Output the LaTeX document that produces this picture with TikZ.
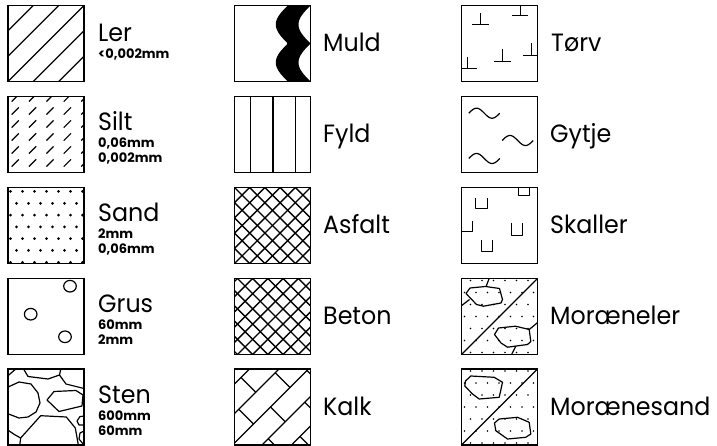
\documentclass[tikz,border=0pt]{standalone}
\usepackage{fontspec}
\setmainfont{Poppins}[FakeStretch=0.95]
\newfontfamily\smallfont{Poppins}
\begin{document}
\begin{tikzpicture}[x=1bp,y=-1bp,
  frame/.style={line width=1.8bp},
  pat/.style={line width=1.2bp, line join=round},
  big/.style={anchor=base west,inner sep=0pt,font=\fontsize{25bp}{30bp}\selectfont},
  bigstack/.style={big,text depth=0pt},
  small/.style={anchor=base west,inner sep=0pt,text height=9.5bp,text depth=2bp,font=\smallfont\bfseries\fontsize{13bp}{15bp}\selectfont},
  dot/.style={fill=black}]
\useasboundingbox (0,0) rectangle (717,446);

% ---------------- Column 1 ----------------
% Ler
\begin{scope}[shift={(8,5.5)}]
  \begin{scope}\clip (0,0) rectangle (76,76);
    \foreach \c in {25.33,50.67,76,101.33,126.67} \draw[pat] (\c,0) -- (0,\c);
  \end{scope}
  \draw[frame] (0,0) rectangle (76,76);
\end{scope}
\node[bigstack] (ler) at (98,42) {Ler};
\node[small] (lerA) at (98,58.5) {<0,002mm};

% Silt
\begin{scope}[shift={(8,96.5)}]
  \begin{scope}\clip (0,0) rectangle (76,76);
    \foreach \cx in {7.2,24.6,42,59.4,76.8}
      \foreach \cy in {1.5,14.5,27.5,40.5,53.5,66.5}
        \draw[pat] ({\cx-3.6},{\cy+3.6}) -- ({\cx+3.6},{\cy-3.6});
  \end{scope}
  \draw[frame] (0,0) rectangle (76,76);
\end{scope}
\node[bigstack] (silt) at (98,131) {Silt};
\node[small] (siltA) at (98,148) {0,06mm};
\node[small] (siltB) at (98,163) {0,002mm};

% Sand
\begin{scope}[shift={(8,187.5)}]
  \foreach \j in {0,2,4,6} \foreach \k in {0,...,6}
    \fill[dot] ({2.5+12*\k},{4+11.8*\j}) circle (1.5);
  \foreach \j in {1,3,5} \foreach \k in {0,...,5}
    \fill[dot] ({8.5+12*\k},{4+11.8*\j}) circle (1.5);
  \draw[frame] (0,0) rectangle (76,76);
\end{scope}
\node[bigstack] (sand) at (98,222) {Sand};
\node[small] (sandA) at (98,239) {2mm};
\node[small] (sandB) at (98,254) {0,06mm};

% Grus
\begin{scope}[shift={(8,278.5)}]
  \draw[pat] (22.7,35.7) ellipse [x radius=6.3, y radius=5.8];
  \draw[pat] (62,7.7) ellipse [x radius=6.3, y radius=5.8];
  \draw[pat] (57,58.3) ellipse [x radius=6.3, y radius=5.8];
  \draw[frame] (0,0) rectangle (76,76);
\end{scope}
\node[bigstack] (grus) at (98,313) {Grus};
\node[small] (grusA) at (98,330) {60mm};
\node[small] (grusB) at (98,345) {2mm};

% Sten
\begin{scope}[shift={(8,369)}]
  \begin{scope}\clip (0,0) rectangle (76,76);
    \draw[pat] (-2,19) -- (11,13) -- (23,15) -- (30,24) -- (32,34) -- (28,43) -- (20,48) -- (11,49) -- (-2,44);
    \draw[pat] (-1,7.5) -- (9,-1);
    \draw[pat] (15,-1) -- (20,7.5) -- (40,10) -- (51.5,6) -- (53,-1);
    \draw[pat] (51.5,6) -- (58,15) -- (78,20);
    \draw[pat] (39,31) -- (46,22.5) -- (68,21.5) -- (75,26) -- (74,37) -- (51,42.5) -- cycle;
    \draw[pat] (11.5,78) -- (12.7,69) -- (32.7,46.7) -- (58.3,48) -- (67.3,59) -- (70.7,78);
    \draw[pat] (-1,60.5) -- (6.7,65.7) -- (12.7,69);
    \draw[pat] (69,52) -- (72,47.5) -- (78,47) ;
    \draw[pat] (69,52) -- (71,56) -- (78,56);
    \draw[pat] (78,61) -- (72,64) -- (71,70) -- (76,76);
  \end{scope}
  \draw[frame] (0,0) rectangle (76,76);
\end{scope}
\node[bigstack] (sten) at (98,403.5) {Sten};
\node[small] (stenA) at (98,420.5) {600mm};
\node[small] (stenB) at (98,435.5) {60mm};

% ---------------- Column 2 ----------------
% Muld
\begin{scope}[shift={(234.5,5.5)}]
  \fill plot[domain=0:76,samples=77,variable=\t] ({53.3-12*abs(sin(180*\t/38))},\t)
     -- plot[domain=76:0,samples=77,variable=\t] ({76-12*abs(sin(180*\t/38))},\t) -- cycle;
  \draw[pat] (53.3,0) -- (53.3,76);
  \draw[frame] (0,0) rectangle (76,76);
\end{scope}
\node[big] (muld) at (323,52) {Muld};

% Fyld
\begin{scope}[shift={(234.5,96.5)}]
  \foreach \x in {16,38.5,61} \draw[pat] (\x,0) -- (\x,76);
  \draw[frame] (0,0) rectangle (76,76);
\end{scope}
\node[big] (fyld) at (323,143) {Fyld};

% Asfalt
\begin{scope}[shift={(234.5,187.5)}]
  \begin{scope}\clip (0,0) rectangle (76,76);
    \foreach \k in {-5,...,10} {
      \draw[pat,line width=1.4bp] ({15.2*\k},0) -- ({15.2*\k-76},76);
      \draw[pat,line width=1.4bp] ({15.2*\k},0) -- ({15.2*\k+76},76);
    }
  \end{scope}
  \draw[frame] (0,0) rectangle (76,76);
\end{scope}
\node[big] (asfalt) at (323,234) {Asfalt};

% Beton
\begin{scope}[shift={(234.5,278.5)}]
  \begin{scope}\clip (0,0) rectangle (76,76);
    \foreach \k in {-5,...,10} {
      \draw[pat,line width=1.4bp] ({15.2*\k+3},0) -- ({15.2*\k+3-76},76);
      \draw[pat,line width=1.4bp] ({15.2*\k+3},0) -- ({15.2*\k+3+76},76);
    }
  \end{scope}
  \draw[frame] (0,0) rectangle (76,76);
\end{scope}
\node[big] (beton) at (323,325) {Beton};

% Kalk
\begin{scope}[shift={(234.5,369)}]
  \begin{scope}\clip (0,0) rectangle (76,76);
    \foreach \c in {15,44.5,74,103.5,133} \draw[pat] (\c,0) -- (0,\c);
    \foreach \a/\b/\d in {15/44.5/-2, 44.5/74/-36, 44.5/74/37, 74/103.5/-2, 74/103.5/71,
                          103.5/133/-36, 103.5/133/37, 133/162.5/-2}
      \draw[pat] ({(\a+\d)/2},{(\a-\d)/2}) -- ({(\b+\d)/2},{(\b-\d)/2});
  \end{scope}
  \draw[frame] (0,0) rectangle (76,76);
\end{scope}
\node[big] (kalk) at (323,415.5) {Kalk};

% ---------------- Column 3 ----------------
% Toerv
\begin{scope}[shift={(461.5,5.5)}]
  \begin{scope}\clip (0,0) rectangle (76,76);
    \foreach \xa/\xb/\y/\s/\top in {10.7/27.3/19/19/8, 50.7/66.7/10/58.7/-1,
        32.3/49/55.7/40.7/44, 61.7/77/49.7/69.7/38, -1/15.7/63.3/6.3/51.5}
      {\draw[pat] (\xa,\y) -- (\xb,\y); \draw[pat] (\s,\y) -- (\s,\top);}
  \end{scope}
  \draw[frame] (0,0) rectangle (76,76);
\end{scope}
\node[big] (toerv) at (551,52) {Tørv};

% Gytje
\begin{scope}[shift={(461.5,96.5)}]
  \foreach \xo/\yc in {7.3/16.7, 40.7/44, 7.3/62}
    \draw[pat] plot[domain=0:31,samples=40,variable=\t] ({\xo+\t},{\yc-5*sin(360*\t/31)});
  \draw[frame] (0,0) rectangle (76,76);
\end{scope}
\node[big] (gytje) at (550,143) {Gytje};

% Skaller
\begin{scope}[shift={(461.5,187.5)}]
  \begin{scope}\clip (0,0) rectangle (76,76);
    \foreach \xa/\xb/\ya/\yb in {14/25.7/11/21, 57.3/68.3/-1/7.7, -2/10.7/34/44,
        50/60.7/36/47.7, 19.7/30.7/52.7/64.3}
      \draw[pat] (\xa,\ya) -- (\xa,\yb) -- (\xb,\yb) -- (\xb,\ya);
  \end{scope}
  \draw[frame] (0,0) rectangle (76,76);
\end{scope}
\node[big] (skaller) at (550,234) {Skaller};

% Moraeneler
\begin{scope}[shift={(461.5,278.5)}]
  \begin{scope}\clip (0,0) rectangle (76,76);
    \foreach \j in {0,2,4,6} \foreach \k in {0,...,6}
      \fill[dot] ({9+11.5*\k},{2+12*\j}) circle (0.9);
    \foreach \j in {1,3,5} \foreach \k in {0,...,6}
      \fill[dot] ({3+11.5*\k},{2+12*\j}) circle (0.9);
    \draw[pat] (0,76) -- (76,0);
    \draw[pat] (4.5,15) -- (8.5,9.5) -- (24,8) -- (38,10) -- (41,21) -- (39.5,24.5) -- (22,27.7) -- (15,26) -- cycle;
    \draw[pat] (24.5,8.3) -- (28,-1);
    \draw[pat] (8,21) -- (-1,28);
    \draw[pat] (33,56) -- (37,49.5) -- (54,47.7) -- (67.7,51) -- (69.3,63) -- (66,66) -- (46,68.7) -- (39.5,64.5) -- cycle;
    \draw[pat] (67.7,51) -- (78,42.5);
    \draw[pat] (54.3,67.8) -- (49,78);
  \end{scope}
  \draw[frame] (0,0) rectangle (76,76);
\end{scope}
\node[big] (moraeneler) at (550,325) {Moræneler};

% Moraenesand
\begin{scope}[shift={(461.5,369)}]
  \begin{scope}\clip (0,0) rectangle (76,76);
    \foreach \j in {0,2,4,6} \foreach \k in {0,...,6}
      \fill[dot] ({9+11.5*\k},{2+12*\j}) circle (0.9);
    \foreach \j in {1,3,5} \foreach \k in {0,...,6}
      \fill[dot] ({3+11.5*\k},{2+12*\j}) circle (0.9);
    \draw[pat] (0,76) -- (76,0);
    \draw[pat] (4,12) -- (9.3,7) -- (32.7,8.3) -- (41,13.3) -- (37.7,28.3) -- (17.7,30) -- (11,25) -- (3.3,17) -- cycle;
    \draw[pat] (33,54) -- (37.7,50) -- (56,48.3) -- (67.7,53.3) -- (69.3,65) -- (64.3,68.3) -- (46,70) -- (34.3,61.7) -- cycle;
  \end{scope}
  \draw[frame] (0,0) rectangle (76,76);
\end{scope}
\node[big] (moraenesand) at (550,415.5) {Morænesand};
\end{tikzpicture}
\end{document}
